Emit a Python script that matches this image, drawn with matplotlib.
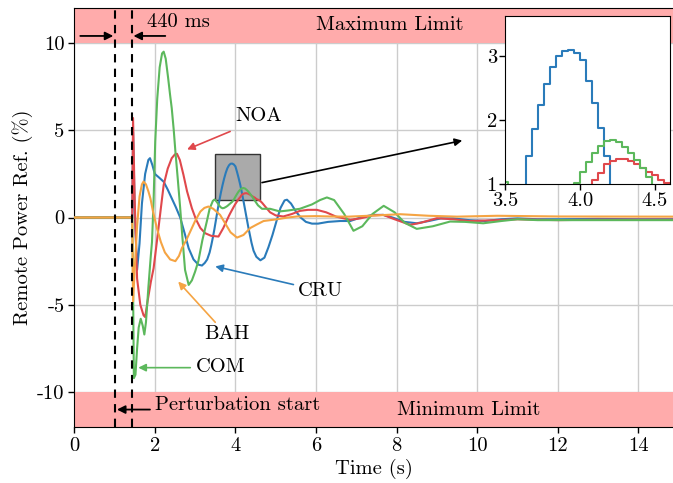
import matplotlib
matplotlib.use("Agg")
import matplotlib.pyplot as plt
from matplotlib.patches import Rectangle

plt.rcParams["font.family"] = ["cmr10", "DejaVu Serif"]
plt.rcParams["mathtext.fontset"] = "cm"
plt.rcParams["axes.unicode_minus"] = False
plt.rcParams["axes.formatter.use_mathtext"] = True

FS = 14.8

# ---------------- data ----------------
cru_t = [0.0, 1.44, 1.46, 1.50, 1.56, 1.62, 1.68, 1.76, 1.84, 1.88, 1.94, 2.00, 2.10, 2.22,
         2.32, 2.42, 2.52, 2.63, 2.74, 2.84, 2.96, 3.08, 3.17, 3.24, 3.30, 3.36, 3.40, 3.44,
         3.48, 3.52, 3.56, 3.60, 3.64, 3.68, 3.72, 3.76, 3.80, 3.84, 3.88, 3.92, 3.96, 4.00,
         4.04, 4.08, 4.12, 4.16, 4.20, 4.24, 4.28, 4.32, 4.36, 4.40, 4.45, 4.52, 4.62, 4.72,
         4.82, 4.92, 5.02, 5.12, 5.22, 5.28, 5.38, 5.50, 5.62, 5.75, 5.90, 6.05, 6.30, 6.60,
         6.85, 7.10, 7.40, 7.67, 7.90, 8.20, 8.50, 8.80, 9.10, 9.40, 9.80, 10.20, 10.60, 11.00,
         11.50, 12.00, 13.00, 14.00, 14.90]
cru_y = [0.0, 0.0, 4.9, 0.5, -3.0, -1.5, 0.8, 2.5, 3.3, 3.4, 3.0, 2.5, 2.3, 2.05,
         1.6, 1.1, 0.6, 0.0, -0.9, -1.76, -2.4, -2.7, -2.75, -2.6, -2.4, -2.0, -1.6, -1.15,
         -0.65, -0.1, 0.45, 0.95, 1.43, 1.85, 2.23, 2.56, 2.82, 2.99, 3.08, 3.09, 3.04, 2.93,
         2.61, 2.26, 1.875, 1.43, 0.95, 0.45, -0.05, -0.55, -1.0, -1.45, -1.9, -2.25, -2.45, -2.3,
         -1.7, -1.0, -0.2, 0.55, 0.98, 1.02, 0.8, 0.35, 0.0, -0.25, -0.35, -0.35, -0.25, -0.2,
         -0.2, 0.0, 0.15, 0.15, 0.0, -0.25, -0.33, -0.2, -0.05, -0.05, -0.15, -0.2, -0.1, -0.05,
         -0.1, -0.1, -0.08, -0.1, -0.1]

noa_t = [0.0, 1.44, 1.46, 1.50, 1.56, 1.64, 1.72, 1.76, 1.82, 1.90, 1.97, 2.05, 2.13, 2.22,
         2.32, 2.42, 2.50, 2.55, 2.62, 2.71, 2.80, 2.92, 3.02, 3.13, 3.25, 3.40, 3.58, 3.70,
         3.78, 3.84, 3.88, 3.92, 3.96, 4.00, 4.04, 4.08, 4.12, 4.16, 4.20, 4.24, 4.28, 4.32,
         4.36, 4.40, 4.44, 4.48, 4.52, 4.56, 4.60, 4.66, 4.75, 4.86, 5.00, 5.19, 5.40, 5.60,
         5.80, 6.02, 6.25, 6.50, 6.85, 7.10, 7.40, 7.67, 7.95, 8.34, 8.60, 9.00, 9.40, 9.80,
         10.50, 11.00, 12.00, 13.00, 14.00, 14.90]
noa_y = [0.0, 0.0, 5.7, 1.0, -3.5, -5.0, -5.6, -5.7, -4.8, -3.7, -2.9, -1.4, 0.15, 1.87,
         2.8, 3.4, 3.62, 3.65, 3.3, 2.45, 1.5, 0.53, -0.1, -0.6, -0.9, -1.05, -1.09, -0.6,
         -0.2, 0.1, 0.28, 0.45, 0.62, 0.78, 0.92, 1.06, 1.17, 1.31, 1.36, 1.39, 1.39, 1.36,
         1.31, 1.25, 1.19, 1.14, 1.06, 1.02, 0.98, 0.85, 0.6, 0.3, 0.12, 0.06, 0.2, 0.38,
         0.44, 0.44, 0.3, 0.05, -0.13, -0.05, 0.12, 0.15, -0.1, -0.42, -0.3, -0.04, -0.1, -0.2,
         -0.15, -0.1, -0.15, -0.12, -0.12, -0.12]

com_t = [0.0, 1.44, 1.46, 1.48, 1.52, 1.56, 1.60, 1.65, 1.70, 1.74, 1.78, 1.84, 1.90, 1.93,
         1.97, 2.01, 2.06, 2.12, 2.18, 2.22, 2.27, 2.33, 2.38, 2.42, 2.47, 2.51, 2.57, 2.63,
         2.68, 2.75, 2.84, 2.92, 3.00, 3.08, 3.18, 3.29, 3.36, 3.44, 3.48, 3.52, 3.56, 3.60,
         3.64, 3.68, 3.72, 3.76, 3.80, 3.84, 3.88, 3.92, 3.96, 4.00, 4.04, 4.08, 4.12, 4.16,
         4.20, 4.24, 4.28, 4.32, 4.36, 4.40, 4.44, 4.48, 4.56, 4.66, 4.86, 5.10, 5.30, 5.60,
         5.90, 6.10, 6.27, 6.45, 6.70, 6.93, 7.15, 7.40, 7.68, 7.95, 8.20, 8.50, 8.90, 9.33,
         9.70, 10.15, 10.60, 11.00, 11.50, 12.00, 13.00, 14.00, 14.90]
com_y = [0.0, 0.0, -4.0, -9.2, -9.0, -7.5, -6.3, -5.8, -6.2, -6.7, -6.0, -4.0, -2.2, -1.4,
         1.0, 4.35, 6.8, 8.6, 9.4, 9.5, 9.1, 8.0, 7.0, 6.26, 5.0, 3.8, 2.2, 0.53,
         -1.0, -3.0, -3.86, -3.6, -3.1, -2.5, -1.3, -0.23, 0.5, 0.95, 1.03, 0.95, 0.82, 0.68,
         0.58, 0.53, 0.55, 0.6, 0.66, 0.74, 0.82, 0.9, 1.02, 1.19, 1.35, 1.49, 1.6, 1.67,
         1.69, 1.66, 1.58, 1.49, 1.37, 1.25, 1.11, 0.97, 0.7, 0.5, 0.5, 0.35, 0.4, 0.5,
         0.75, 1.0, 1.15, 1.0, 0.2, -0.76, -0.5, 0.2, 0.67, 0.3, -0.3, -0.65, -0.5, -0.23,
         -0.25, -0.33, -0.2, -0.1, -0.15, -0.15, -0.15, -0.15, -0.15]

bah_t = [0.0, 1.44, 1.46, 1.50, 1.56, 1.62, 1.68, 1.72, 1.78, 1.84, 1.89, 1.95, 2.05, 2.15,
         2.25, 2.38, 2.51, 2.60, 2.67, 2.78, 2.88, 3.00, 3.13, 3.23, 3.33, 3.45, 3.62, 3.75,
         3.88, 4.04, 4.20, 4.37, 4.53, 4.70, 5.03, 5.30, 5.53, 6.00, 6.35, 6.80, 7.50, 8.09,
         8.80, 9.50, 10.50, 12.00, 14.90]
bah_y = [0.0, 0.0, -4.8, -3.0, -0.5, 1.2, 1.9, 2.06, 1.9, 1.5, 1.1, 0.4, -0.6, -1.4,
         -2.0, -2.4, -2.5, -2.2, -1.76, -1.3, -0.8, -0.2, 0.34, 0.55, 0.63, 0.5, 0.15, -0.35,
         -0.85, -1.15, -1.0, -0.6, -0.4, -0.2, -0.1, 0.0, 0.06, 0.08, 0.06, 0.05, 0.12, 0.19,
         0.1, 0.05, 0.1, 0.06, 0.05]

series = [
    ("CRU", cru_t, cru_y, "#2a7bba"),
    ("NOA", noa_t, noa_y, "#e0484c"),
    ("COM", com_t, com_y, "#5cb85c"),
    ("BAH", bah_t, bah_y, "#f5a443"),
]

perturbation_time = 1.0
response_time = 1.44
limit = 10
y_range = 12
x_max = 14.86
zoom_x = (3.5, 4.6)
zoom_y = (1.0, 3.62)

band_color = "#ffabab"

# ---------------- figure ----------------
fig = plt.figure(figsize=(6.73, 4.83), dpi=100)
ax = fig.add_axes([0.1103, 0.1159, 0.8897, 0.8675])

ax.set_xlim(0, x_max)
ax.set_ylim(-y_range, y_range)
ax.grid(True, color="#cccccc", linewidth=1.0, zorder=0)
ax.set_axisbelow(True)

ax.axhspan(limit, y_range, color=band_color, zorder=1, linewidth=0)
ax.axhspan(-y_range, -limit, color=band_color, zorder=1, linewidth=0)
ax.text(6.0, 11.0, "Maximum Limit", fontsize=FS, va="center", ha="left", zorder=5)
ax.text(8.0, -11.0, "Minimum Limit", fontsize=FS, va="center", ha="left", zorder=5)

for name, t, y, c in series:
    ax.plot(t, y, color=c, linewidth=1.5, zorder=3)

ax.axvline(perturbation_time, color="black", linestyle=(0, (4, 3)), linewidth=1.5, zorder=4)
ax.axvline(response_time, color="black", linestyle=(0, (4, 3)), linewidth=1.5, zorder=4)

arrow_k = dict(arrowstyle="-|>", color="black", lw=1.3, mutation_scale=12, shrinkA=0, shrinkB=0)
ax.annotate("", xy=(perturbation_time - 0.03, 10.4), xytext=(0.15, 10.4), arrowprops=arrow_k, zorder=6)
ax.annotate("", xy=(response_time + 0.03, 10.4), xytext=(2.26, 10.4), arrowprops=arrow_k, zorder=6)
ax.text(1.8, 11.2, "440 ms", fontsize=FS, va="center", ha="left", zorder=6)

ax.annotate("", xy=(perturbation_time + 0.06, -11.0), xytext=(1.88, -11.0), arrowprops=arrow_k, zorder=6)
ax.text(2.0, -10.75, "Perturbation start", fontsize=FS, va="center", ha="left", zorder=6)

# series labels with pointer arrows
labels = [
    ("NOA", (4.0, 5.8), (3.87, 4.93), (2.8, 3.9), "#e0484c"),
    ("CRU", (5.56, -4.2), (5.44, -3.84), (3.5, -2.8), "#2a7bba"),
    ("BAH", (3.22, -6.65), (3.5, -6.0), (2.58, -3.67), "#f5a443"),
    ("COM", (3.03, -8.55), (2.88, -8.6), (1.59, -8.6), "#5cb85c"),
]
for name, txy, a0, a1, c in labels:
    ax.text(txy[0], txy[1], name, fontsize=FS, va="center", ha="left", zorder=6)
    ax.annotate("", xy=a1, xytext=a0,
                arrowprops=dict(arrowstyle="-|>", color=c, lw=1.2, mutation_scale=11,
                                shrinkA=0, shrinkB=0), zorder=6)

# zoom window
ax.add_patch(Rectangle((zoom_x[0], zoom_y[0]), zoom_x[1] - zoom_x[0], zoom_y[1] - zoom_y[0],
                       facecolor="#aaaaaa", edgecolor="#333333", linewidth=1.0, zorder=2))
ax.annotate("", xy=(9.63, 4.41), xytext=(4.66, 2.0),
            arrowprops=dict(arrowstyle="-|>", color="black", lw=1.2, mutation_scale=11,
                            shrinkA=0, shrinkB=0), zorder=6)

ax.set_xticks([0, 2, 4, 6, 8, 10, 12, 14])
ax.set_xticklabels(["0", "2", "4", "6", "8", "10", "12", "14"])
ax.set_yticks([-10, -5, 0, 5, 10])
ax.set_yticklabels(["-10", "-5", "0", "5", "10"])
ax.tick_params(labelsize=FS, length=4, width=1, pad=3)
ax.spines["right"].set_visible(False)
ax.set_xlabel("Time (s)", fontsize=FS, labelpad=3)
ax.set_ylabel("Remote Power Ref. (%)", fontsize=FS, labelpad=3)

# inset
ins = fig.add_axes([0.7508, 0.619, 0.2447, 0.348])
for name, t, y, c in series:
    ins.plot(t, y, color=c, linewidth=1.5, drawstyle="steps-post")
ins.set_xlim(*zoom_x)
ins.set_ylim(*zoom_y)
ins.set_xticks([3.5, 4.0, 4.5])
ins.set_xticklabels(["3.5", "4.0", "4.5"])
ins.set_yticks([1, 2, 3])
ins.set_yticklabels(["1", "2", "3"])
ins.tick_params(labelsize=FS, length=4, width=1, pad=2)
ins.set_zorder(10)

fig.savefig("out.png", dpi=100)
